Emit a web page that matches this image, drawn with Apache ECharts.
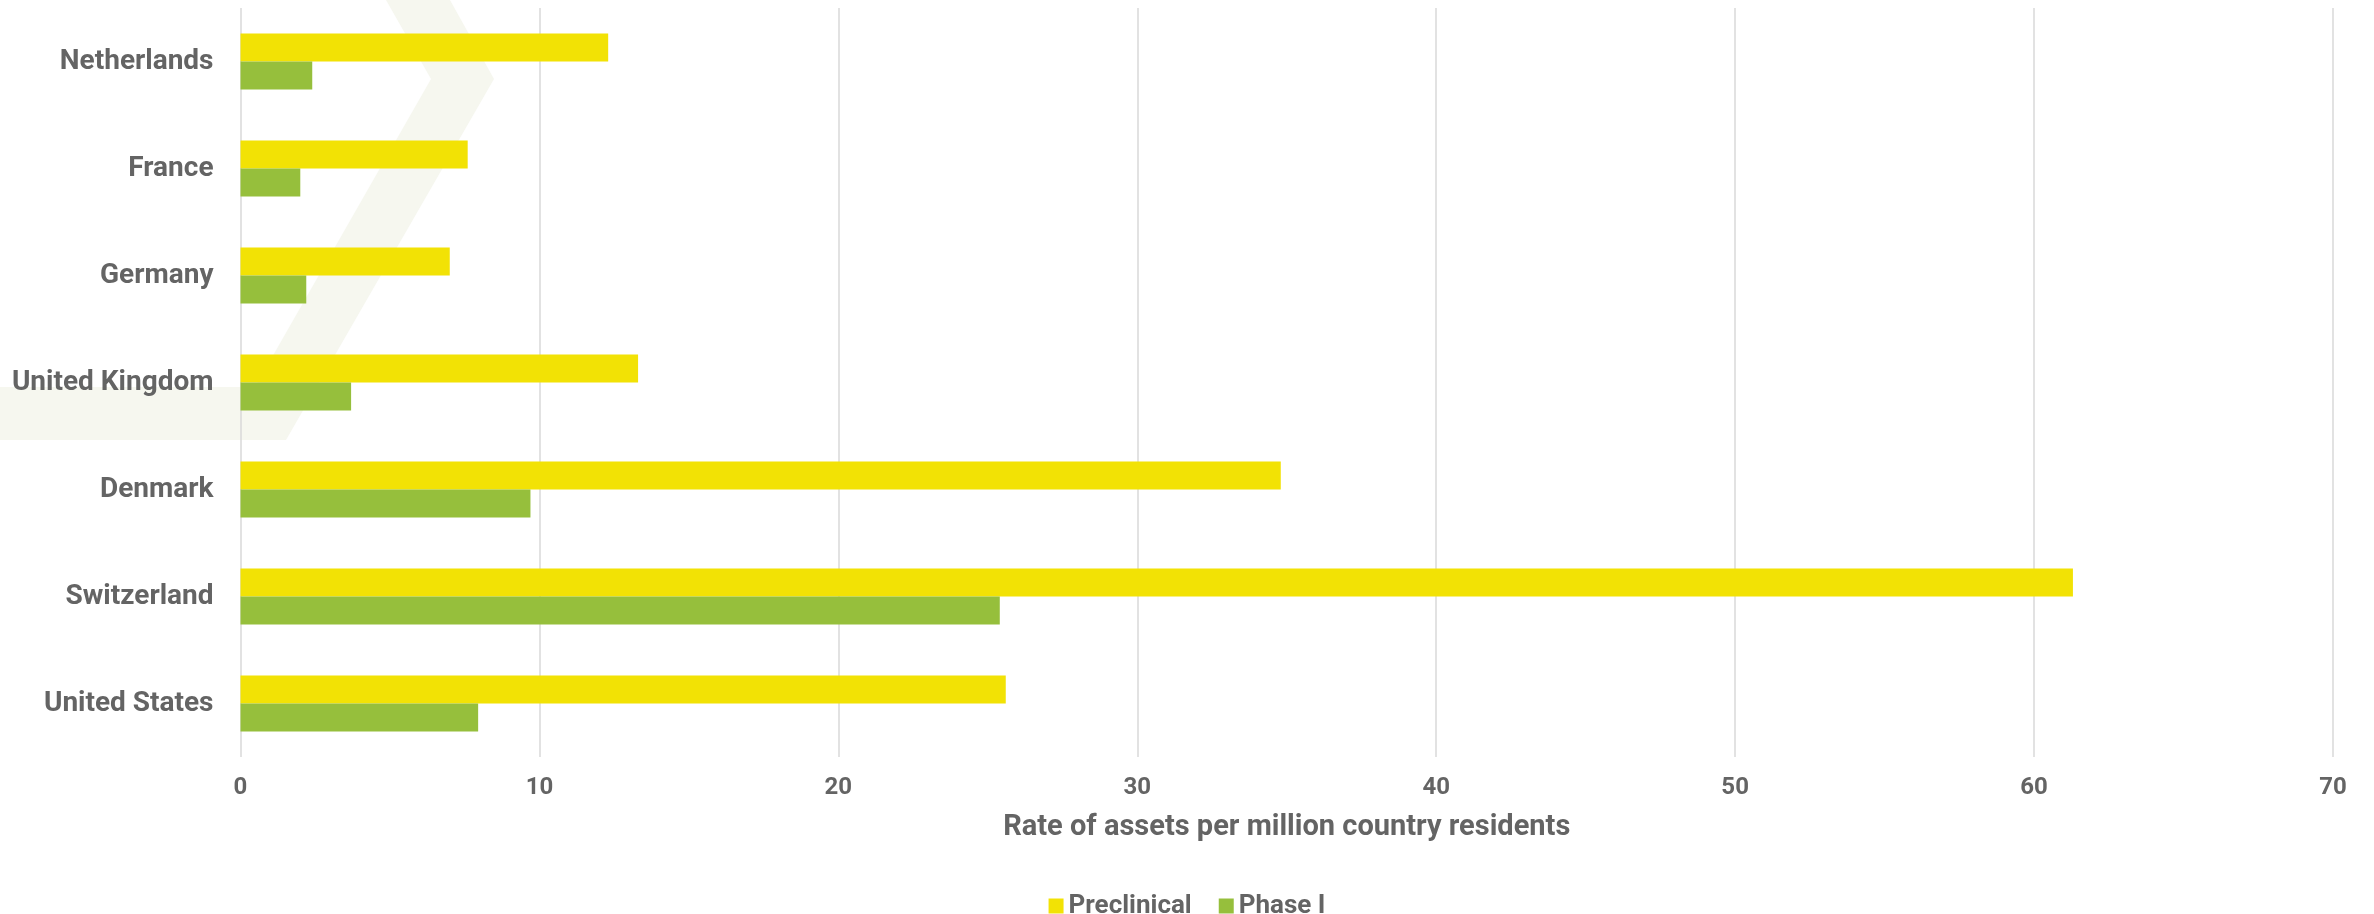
<!DOCTYPE html>
<html>
<head>
<meta charset="utf-8">
<style>
  html, body { margin: 0; padding: 0; background: #ffffff; }
  #chart { width: 2374px; height: 914px; }
</style>
<script src="https://cdn.jsdelivr.net/npm/echarts@6/dist/echarts.min.js"></script>
</head>
<body>
<div id="chart"></div>
<script>
const categories = ['Netherlands', 'France', 'Germany', 'United Kingdom', 'Denmark', 'Switzerland', 'United States'];
const preclinical = [12.3, 7.6, 7.0, 13.3, 34.8, 61.3, 25.6];
const phaseI = [2.4, 2.0, 2.2, 3.7, 9.7, 25.4, 7.95];
const seriesNames = ['Preclinical', 'Phase I'];
const axisTitle = 'Rate of assets per million country residents';

const textColor = '#646464';
const fontFamily = 'Roboto, "Noto Sans", sans-serif';

const chart = echarts.init(document.getElementById('chart'), null, { renderer: 'canvas' });
chart.setOption({
  backgroundColor: '#ffffff',
  animation: false,
  textStyle: { fontFamily: fontFamily },
  graphic: [{
    type: 'polygon',
    z: -10,
    silent: true,
    shape: {
      points: [[386, 0], [450, 0], [494, 79], [286, 440], [0, 440], [0, 387], [255, 387], [431, 79]]
    },
    style: { fill: '#F6F7EF' }
  }],
  grid: { left: 240.5, right: 41, top: 8, bottom: 157 },
  legend: {
    data: seriesNames,
    left: 'center',
    top: 888,
    icon: 'rect',
    itemWidth: 15,
    itemHeight: 15,
    itemGap: 27,
    textStyle: { color: textColor, fontSize: 26, fontWeight: 'bold', fontFamily: fontFamily }
  },
  xAxis: {
    type: 'value',
    min: 0,
    max: 70,
    interval: 10,
    name: axisTitle,
    nameLocation: 'middle',
    nameGap: 56,
    nameTextStyle: { color: textColor, fontSize: 29, fontWeight: 'bold', fontFamily: fontFamily },
    axisLine: { show: false },
    axisTick: { show: false },
    axisLabel: { color: textColor, fontSize: 24, fontWeight: 'bold', margin: 19, fontFamily: fontFamily },
    splitLine: { show: true, lineStyle: { color: '#d9d9d9', width: 1.5 } }
  },
  yAxis: {
    type: 'category',
    data: categories,
    inverse: true,
    axisLine: { show: false },
    axisTick: { show: false },
    axisLabel: { color: textColor, fontSize: 28, fontWeight: 'bold', margin: 27, fontFamily: fontFamily },
    splitLine: { show: false }
  },
  series: [
    {
      name: seriesNames[0],
      type: 'bar',
      data: preclinical,
      barWidth: 28,
      barGap: '0%',
      itemStyle: { color: '#F2E205' }
    },
    {
      name: seriesNames[1],
      type: 'bar',
      data: phaseI,
      barWidth: 28,
      barGap: '0%',
      itemStyle: { color: '#96BF3C' }
    }
  ]
});
</script>
</body>
</html>
